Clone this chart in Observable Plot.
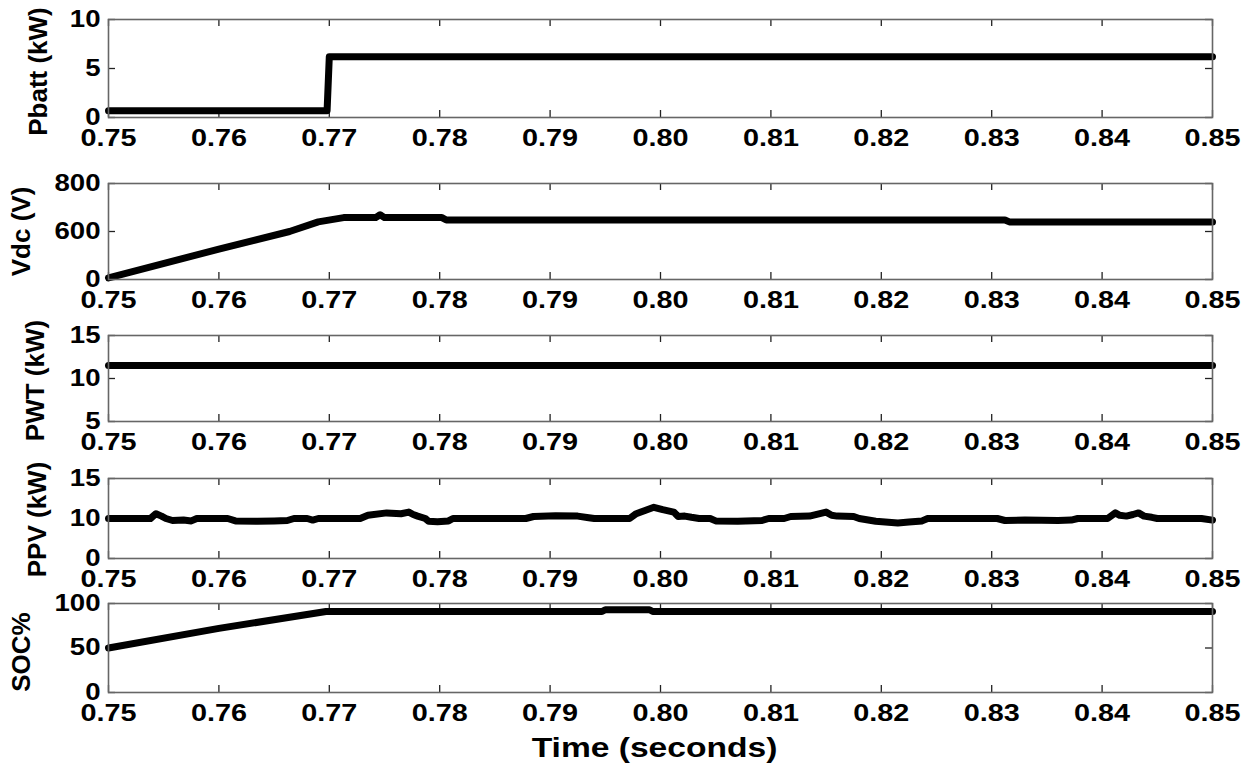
<!DOCTYPE html>
<html>
<head>
<meta charset="utf-8">
<script src="https://cdn.jsdelivr.net/npm/d3@7"></script>
<script src="https://cdn.jsdelivr.net/npm/@observablehq/plot@0.6"></script>
<style>
  html, body { margin: 0; padding: 0; background: #fff; }
  #chart { width: 1250px; }
  #chart svg { display: block; }
  #chart g[aria-label^="x-axis"] text { font-size: 24px; }
  #chart g[aria-label^="y-axis"] text { font-size: 23px; }
</style>
</head>
<body>
<div id="chart"></div>
<script>
// ---------- data ----------
const xTicks = [0.75, 0.76, 0.77, 0.78, 0.79, 0.80, 0.81, 0.82, 0.83, 0.84, 0.85];
const xLabel = "Time (seconds)";

const pbattTime  = [0.75, 0.7698, 0.7700, 0.85];
const pbattValue = [0.7, 0.7, 6.2, 6.2];
const pbattTicks = [0, 5, 10];

const vdcTime  = [0.75, 0.76, 0.7664, 0.769, 0.7713, 0.7742, 0.7746, 0.775, 0.7802, 0.7806, 0.8312, 0.8316, 0.85];
const vdcValue = [20, 380, 600, 640, 658, 658, 670, 658, 658, 648, 648, 640, 640];
const vdcTicks = [0, 600, 800];

const pwtTime  = [0.75, 0.85];
const pwtValue = [11.5, 11.5];
const pwtTicks = [5, 10, 15];

const ppvTime = [0.75, 0.7538, 0.7543, 0.7548, 0.7552, 0.7558, 0.7568, 0.7575, 0.758, 0.7608,
  0.7615, 0.7635, 0.765, 0.7662, 0.7668, 0.768, 0.7685, 0.769, 0.7728, 0.7735,
  0.7752, 0.7765, 0.7772, 0.7776, 0.778, 0.7787, 0.779, 0.7798, 0.7808, 0.7812,
  0.7878, 0.7885, 0.7905, 0.7925, 0.7935, 0.794, 0.7972, 0.7978, 0.7986, 0.7994,
  0.8002, 0.8012, 0.8016, 0.8022, 0.8028, 0.8035, 0.8045, 0.805, 0.807, 0.8092,
  0.8098, 0.8112, 0.8118, 0.8135, 0.815, 0.8155, 0.816, 0.8175, 0.818, 0.8195,
  0.8215, 0.8225, 0.8237, 0.8242, 0.8305, 0.8312, 0.833, 0.836, 0.8372, 0.8378,
  0.8405, 0.8412, 0.8416, 0.8422, 0.8428, 0.8433, 0.8438, 0.8445, 0.845, 0.849, 0.85];
const ppvValue = [10, 10, 10.6, 10.3, 10, 9.5, 9.6, 9.4, 10, 10,
  9.4, 9.3, 9.4, 9.5, 10, 10, 9.6, 10, 10, 10.4,
  10.7, 10.6, 10.8, 10.5, 10.3, 10, 9.3, 9.2, 9.4, 10,
  10, 10.25, 10.35, 10.3, 10.1, 10, 10, 10.6, 11.0, 11.4,
  11.1, 10.8, 10.25, 10.3, 10.15, 10, 10, 9.4, 9.3, 9.5,
  10, 10, 10.25, 10.3, 10.8, 10.4, 10.3, 10.25, 10, 9.3,
  8.9, 9.1, 9.4, 10, 10, 9.5, 9.6, 9.5, 9.6, 10,
  10, 10.7, 10.4, 10.3, 10.5, 10.7, 10.3, 10.15, 10, 10, 9.6];
const ppvTicks = [0, 10, 15];

const socTime  = [0.75, 0.76, 0.7697, 0.7947, 0.795, 0.799, 0.7993, 0.85];
const socValue = [50, 72, 91, 91, 93, 93, 91, 91];
const socTicks = [0, 50, 100];

const labels = ["Pbatt (kW)", "Vdc (V)", "PWT (kW)", "PPV (kW)", "SOC%"];

// ---------- layout ----------
const W = 1250, ML = 108, MR = 38;
const FONT = "'Liberation Sans', Arial, Helvetica, sans-serif";

const panels = [
  {t: pbattTime, v: pbattValue, ticks: pbattTicks, label: labels[0], h: 160, mt: 19, mb: 43, lx: 38, ly: 3},
  {t: vdcTime,   v: vdcValue,   ticks: vdcTicks,   label: labels[1], h: 150, mt: 23, mb: 31, lx: 21, ly: 0},
  {t: pwtTime,   v: pwtValue,   ticks: pwtTicks,   label: labels[2], h: 145, mt: 25, mb: 34, lx: 35, ly: 2},
  {t: ppvTime,   v: ppvValue,   ticks: ppvTicks,   label: labels[3], h: 130, mt: 23, mb: 27, lx: 37, ly: 1},
  {t: socTime,   v: socValue,   ticks: socTicks,   label: labels[4], h: 187, mt: 18, mb: 80, lx: 21, ly: 4, last: true}
];

const chart = document.getElementById("chart");

panels.forEach(p => {
  const frameH = p.h - p.mt - p.mb;
  const frameW = W - ML - MR;
  const n = p.ticks.length;
  // evenly spaced tick positions (piecewise linear scale when ticks are uneven)
  const yRange = p.ticks.map((_, i) => (p.h - p.mb) - i * frameH / (n - 1));
  const idx = p.t.map((_, i) => i);
  const marks = [
    Plot.tickX(xTicks, {x: d => d, stroke: "#222", strokeWidth: 1.3, insetTop: frameH - 7}),
    Plot.tickX(xTicks, {x: d => d, stroke: "#222", strokeWidth: 1.3, insetBottom: frameH - 7}),
    Plot.tickY(p.ticks, {y: d => d, stroke: "#222", strokeWidth: 1.3, insetRight: frameW - 7}),
    Plot.tickY(p.ticks, {y: d => d, stroke: "#222", strokeWidth: 1.3, insetLeft: frameW - 7}),
    Plot.line(idx, {x: i => p.t[i], y: i => p.v[i], stroke: "#000", strokeWidth: 7, strokeLinejoin: "round"}),
    Plot.frame({stroke: "#666", strokeWidth: 1.6}),
    Plot.text([p.label], {text: d => d, frameAnchor: "left", rotate: -90, dx: p.lx - ML, dy: p.ly,
      lineAnchor: "middle", textAnchor: "middle", fontSize: 26, fontWeight: "bold", fill: "#000"})
  ];
  if (p.last) {
    marks.push(Plot.text([xLabel], {text: d => d, frameAnchor: "bottom", lineAnchor: "top",
      dy: 45, dx: -6, fontSize: 28, fontWeight: "bold", fill: "#000"}));
  }
  const svg = Plot.plot({
    width: W,
    height: p.h,
    marginLeft: ML,
    marginRight: MR,
    marginTop: p.mt,
    marginBottom: p.mb,
    style: {fontFamily: FONT, fontWeight: "bold", fontSize: "22px", color: "#000", background: "#fff", overflow: "visible"},
    x: {type: "linear", domain: [0.75, 0.85], ticks: xTicks, tickFormat: d => d.toFixed(2), tickSize: 0, tickPadding: 11, label: null},
    y: {type: "linear", domain: p.ticks, range: yRange, ticks: p.ticks, tickSize: 0, tickPadding: 8, label: null},
    marks
  });
  chart.appendChild(svg);
});

// horizontal stretch of upright text, as in the reference
document.querySelectorAll("#chart svg text").forEach(el => {
  const t = el.getAttribute("transform") || "";
  if (t.includes("rotate")) return;
  const x = +el.getAttribute("x") || 0;
  el.setAttribute("transform", `${t} translate(${x},0) scale(1.2,1) translate(${-x},0)`.trim());
});
</script>
</body>
</html>
